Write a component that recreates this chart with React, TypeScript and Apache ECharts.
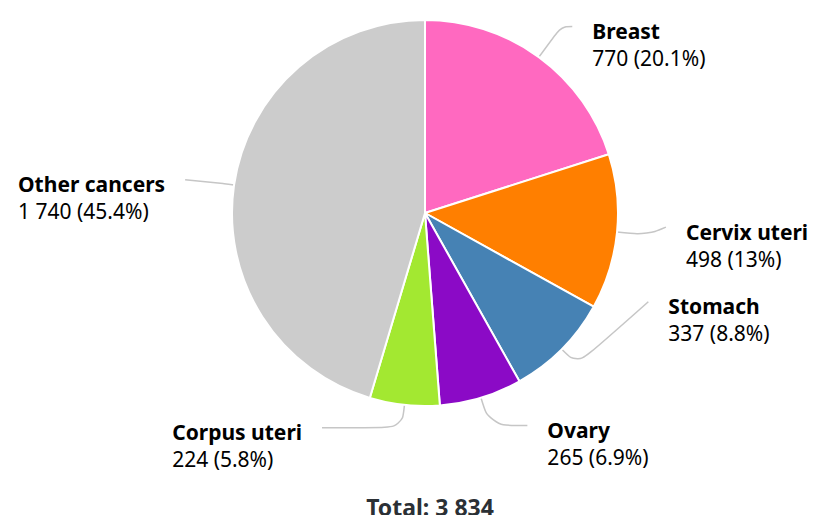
import React, { useEffect, useRef } from "react";
import * as echarts from "echarts";

// ---- data ----
const categories = ["Breast", "Cervix uteri", "Stomach", "Ovary", "Corpus uteri", "Other cancers"];
const values = [770, 498, 337, 265, 224, 1740];
const colors = ["#ff69c0", "#ff7f00", "#4682b4", "#8b0ac6", "#a3e831", "#cccccc"];

// label connector tuning (layout, not data)
const lineLength = [38, 30, 22, 29, 23, 10];
const lineLength2 = [11, 19, 71, 38, 80, 39];
const lineLift = [0, -8, -63, 0, 0, -4];

const FONT = "'Noto Sans', 'Open Sans', sans-serif";
const CX = 425;
const CY = 213;
const R = 193;

const fmt = (n: number) => String(n).replace(/\B(?=(\d{3})+(?!\d))/g, " ");

export default function App() {
  const ref = useRef<HTMLDivElement>(null);

  useEffect(() => {
    if (!ref.current) return;
    const chart = echarts.init(ref.current, undefined, { renderer: "svg" });
    const total = values.reduce((a, b) => a + b, 0);

    chart.setOption({
      animation: false,
      title: {
        text: `Total: ${fmt(total)}`,
        left: CX,
        textAlign: "center",
        top: 490,
        textStyle: { fontFamily: FONT, fontSize: 23, fontWeight: "bold", color: "#2b3035" },
      },
      series: [
        {
          type: "pie",
          center: [CX, CY],
          radius: [0, R],
          startAngle: 90,
          clockwise: true,
          percentPrecision: 1,
          avoidLabelOverlap: false,
          itemStyle: { borderColor: "#ffffff", borderWidth: 2 },
          label: {
            show: true,
            position: "outside",
            distanceToLabelLine: 20,
            bleedMargin: 0,
            formatter: (p: any) => `{n|${p.name}}\n{v|${fmt(p.value)} (${p.percent}%)}`,
            rich: {
              n: { fontFamily: FONT, fontSize: 21, fontWeight: "bold", lineHeight: 27, color: "#000000", align: "left" },
              v: { fontFamily: FONT, fontSize: 21, lineHeight: 27, color: "#000000", align: "left" },
            },
          },
          labelLine: {
            show: true,
            smooth: 0.4,
            lineStyle: { color: "#c6c6c6", width: 1.5 },
          },
          labelLayout: (params: any) => {
            const i = params.dataIndex;
            const pts = params.labelLinePoints;
            const lift = lineLift[i] || 0;
            const out: any = { dy: lift + 18 };
            if (pts && pts.length === 3) {
              out.labelLinePoints = [pts[0], pts[1], [pts[2][0], pts[2][1] + lift]];
            }
            return out;
          },
          data: categories.map((name, i) => ({
            name,
            value: values[i],
            itemStyle: { color: colors[i] },
            labelLine: { length: lineLength[i], length2: lineLength2[i] },
          })),
        },
      ],
    });

    return () => chart.dispose();
  }, []);

  return (
    <div
      ref={ref}
      style={{ position: "absolute", left: 0, top: 0, width: 814, height: 515 }}
    />
  );
}
